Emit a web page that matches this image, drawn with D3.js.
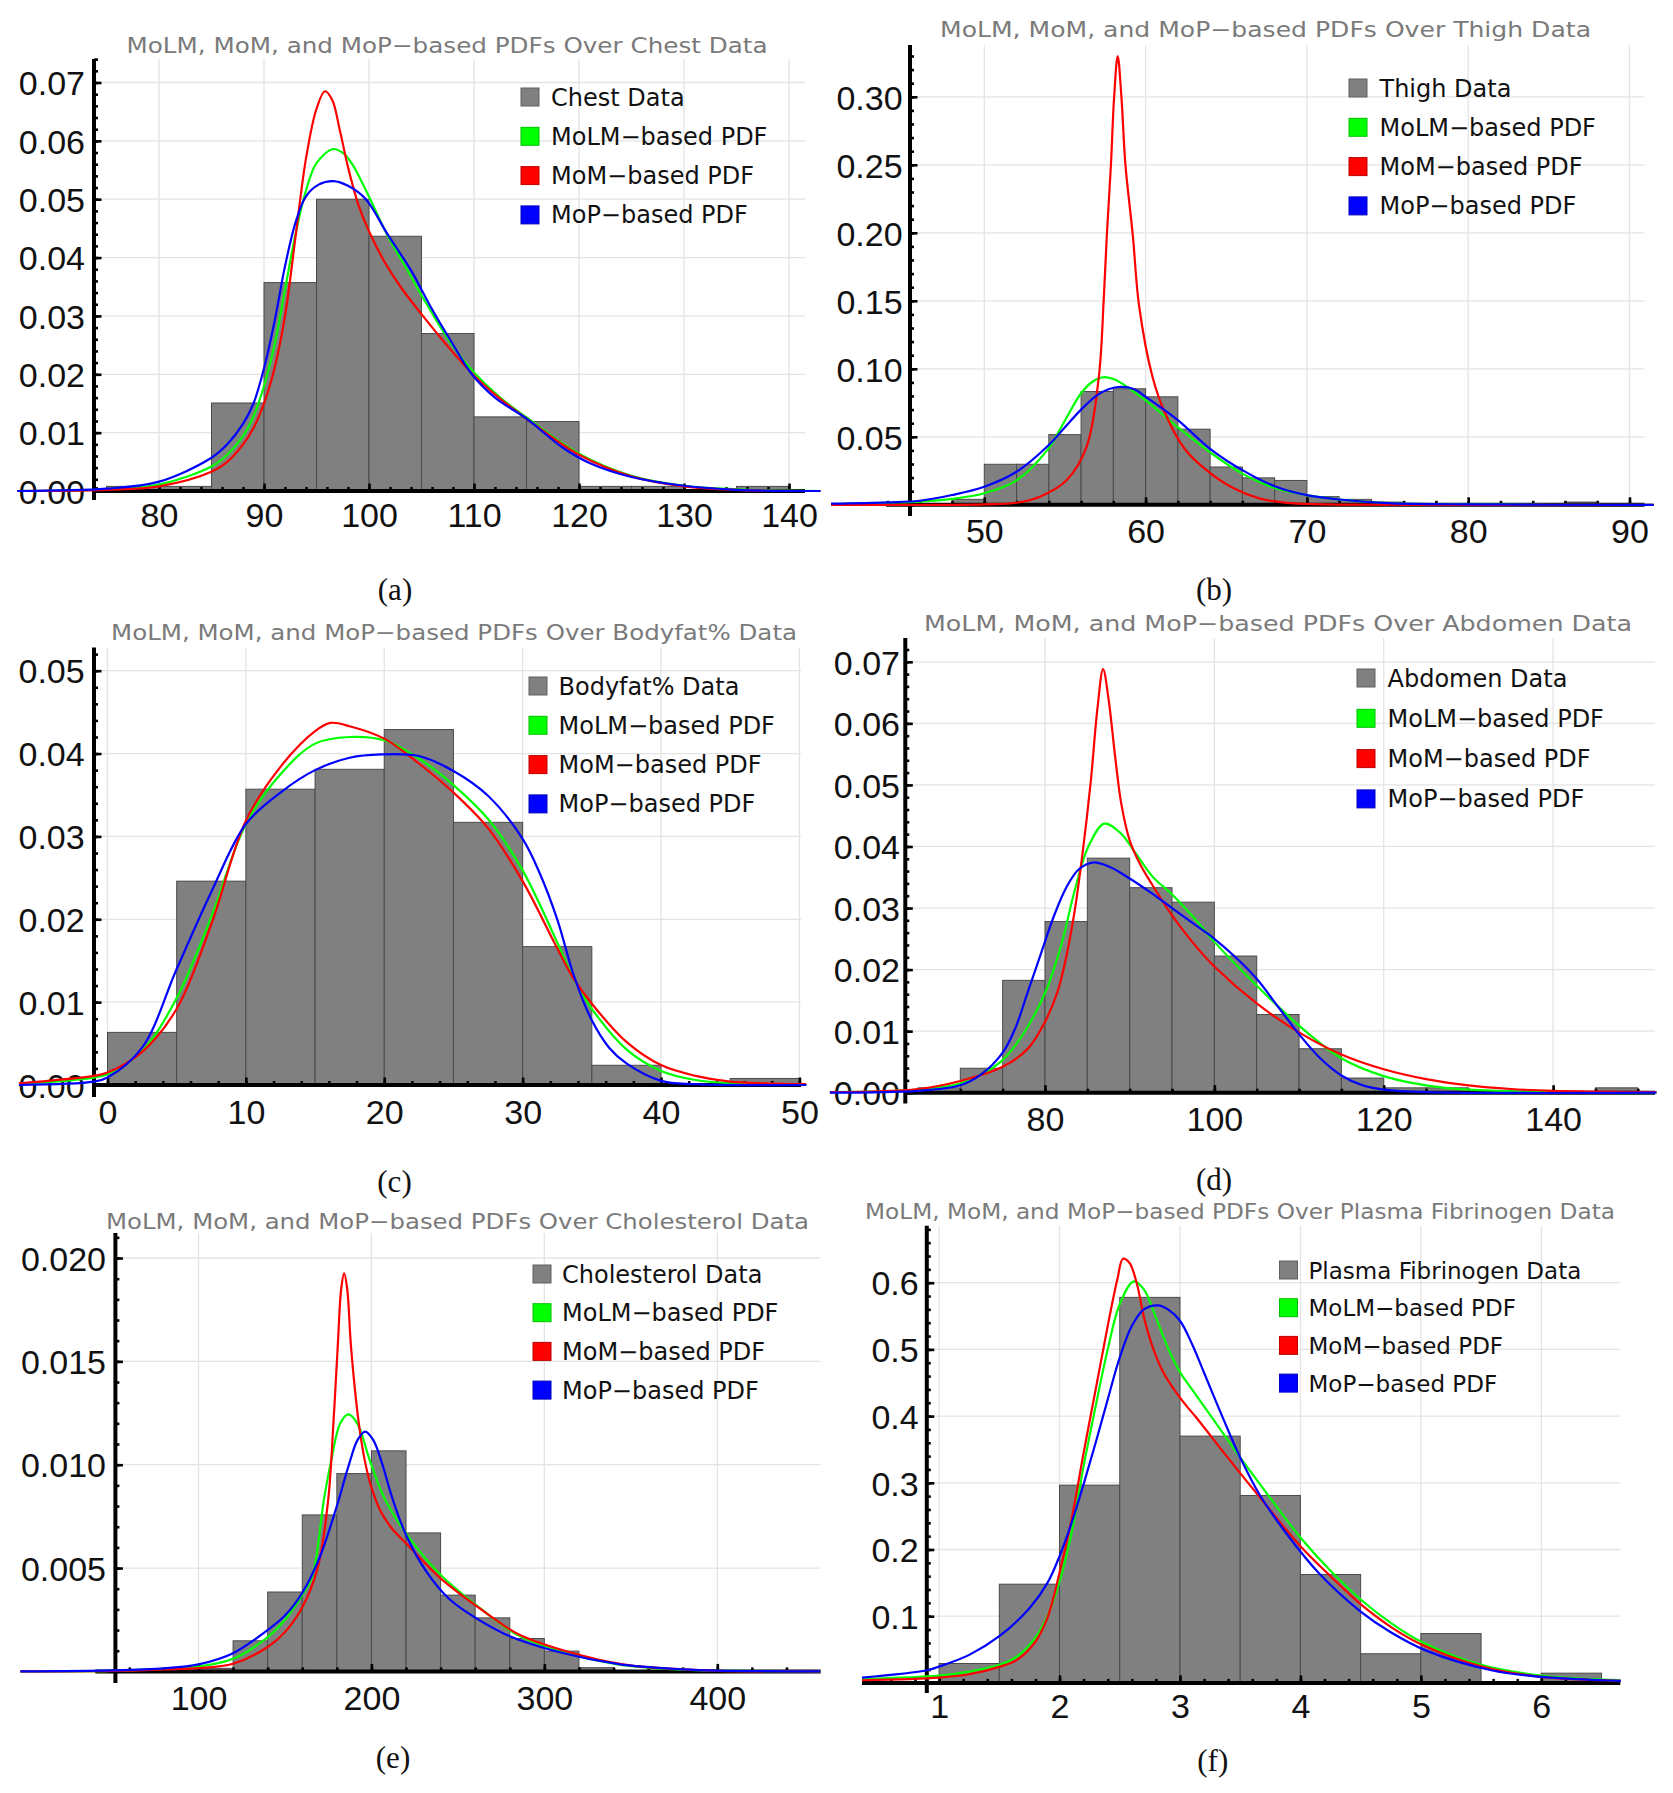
<!DOCTYPE html>
<html><head><meta charset="utf-8">
<script src="https://cdn.jsdelivr.net/npm/d3@7"></script>
<style>body{margin:0;background:#fff}svg{display:block}</style>
</head><body><svg id="c" width="1673" height="1793"></svg>
<script>
// ================= DATA =================
const legendSeries = ["MoLM\u2212based PDF", "MoM\u2212based PDF", "MoP\u2212based PDF"];

// (a) Chest
const chestBinStart = [75,80,85,90,95,100,105,110,115,120,125,130,135];
const chestBinWidth = 5;
const chestDensity = [0.00079,0.00079,0.01508,0.03571,0.05000,0.04365,0.02698,0.01270,0.01190,0.00079,0.00079,0,0.00079];
const chestMoLM = [[66.5,0],[75,0.0003],[80,0.0011],[85,0.0042],[86.5,0.0062],[88,0.0094],[89,0.0128],[90,0.0180],[91,0.0250],[92,0.0345],[93,0.0440],[94,0.0515],[95,0.0562],[96.6,0.0586],[97.6,0.0578],[98.4,0.0560],[99.3,0.0530],[100.2,0.0497],[101.7,0.0440],[103.7,0.0377],[105.5,0.0320],[108,0.0248],[110,0.0203],[112.5,0.0160],[115,0.0126],[120,0.0064],[125,0.0026],[130,0.0009],[135,0.0003],[143,0]];
const chestMoM = [[66.5,0],[75,0.0002],[80,0.0008],[85,0.0033],[86.5,0.0050],[88,0.0080],[89,0.0108],[90,0.0150],[91,0.0210],[92,0.0300],[93,0.0435],[94,0.0570],[95,0.0655],[95.8,0.0685],[96.5,0.0670],[97.2,0.0620],[98,0.0555],[99,0.0490],[100,0.0445],[101.5,0.0392],[103,0.0350],[105,0.0303],[107.5,0.0248],[110,0.0198],[112.5,0.0158],[115,0.0124],[120,0.0062],[125,0.0025],[130,0.0008],[135,0.0002],[143,0]];
const chestMoP = [[66.5,0],[75,0.0004],[80,0.0016],[85,0.0057],[86.5,0.0080],[88,0.0115],[89,0.0150],[90,0.0210],[91,0.0290],[92,0.0385],[93,0.0460],[94,0.0505],[95.2,0.0525],[96.6,0.0531],[98,0.0523],[99.7,0.0500],[101.7,0.0442],[104,0.0378],[105.8,0.0318],[107.8,0.0257],[109.8,0.0200],[112,0.0160],[115,0.0124],[118.4,0.0075],[121,0.0048],[125,0.0024],[130,0.0009],[135,0.0002],[143,0]];
const chestXTicks = [80,90,100,110,120,130,140];
const chestYTicks = [0,0.01,0.02,0.03,0.04,0.05,0.06,0.07];

// (b) Thigh
const thighBinStart = [48,50,52,54,56,58,60,62,64,66,68,70,72,74,76,78,80,82,84,86];
const thighBinWidth = 2;
const thighDensity = [0.0040,0.0298,0.0298,0.0516,0.0833,0.0853,0.0794,0.0556,0.0278,0.0198,0.0179,0.0060,0.0040,0.0020,0,0,0,0,0,0.0020];
const thighMoLM = [[40.5,0.0005],[44,0.0015],[46,0.0023],[48,0.0043],[50,0.0085],[52,0.018],[54,0.0417],[55,0.062],[56,0.0820],[56.7,0.0905],[57.37,0.0938],[58,0.0925],[58.5,0.0895],[60,0.0767],[62,0.0570],[64,0.0386],[66,0.0229],[68,0.0123],[70,0.0071],[72,0.0039],[75,0.0013],[80,0.0003],[91.5,0]];
const thighMoM = [[40.5,0],[50,0.0003],[52,0.0015],[53.45,0.006],[55.1,0.018],[56.35,0.043],[57.1,0.094],[57.4,0.15],[57.6,0.199],[57.85,0.25],[58.05,0.30],[58.27,0.330],[58.5,0.30],[58.75,0.25],[59.2,0.199],[59.6,0.146],[60.43,0.094],[61.2,0.0675],[62.43,0.041],[63.77,0.0255],[65.43,0.0123],[67.1,0.0045],[69,0.0012],[72,0.0002],[91.5,0]];
const thighMoP = [[40.5,0.0008],[44,0.0018],[46,0.003],[48,0.0072],[50,0.0133],[52,0.0243],[54,0.044],[55,0.057],[56,0.070],[57,0.0806],[57.7,0.085],[58.43,0.0867],[59.3,0.0850],[60,0.0795],[62,0.0623],[64,0.0412],[66,0.0255],[68,0.0137],[70,0.0071],[72,0.0039],[75,0.0013],[80,0.0003],[91.5,0]];
const thighXTicks = [50,60,70,80,90];
const thighYTicks = [0.05,0.10,0.15,0.20,0.25,0.30];

// (c) Bodyfat%
const bodyfatBinStart = [0,5,10,15,20,25,30,35,40,45];
const bodyfatBinWidth = 5;
const bodyfatDensity = [0.00635,0.0246,0.0357,0.0381,0.0429,0.0317,0.0167,0.00238,0,0.00079];
const bodyfatMoLM = [[-6.4,0.0001],[-1,0.0009],[0,0.0013],[2.5,0.0041],[5,0.0105],[7.5,0.0203],[10,0.0315],[12.5,0.0375],[15,0.0412],[17.5,0.0420],[20,0.0416],[22.5,0.0394],[25,0.0362],[27.5,0.0321],[30,0.0259],[32.5,0.0172],[33.7,0.0128],[35,0.0092],[37.5,0.0043],[40,0.0017],[42.5,0.0006],[45,0.0002],[50.5,0]];
const bodyfatMoM = [[-6.4,0.0002],[-1,0.0011],[0,0.0015],[2.5,0.0040],[5,0.0092],[7.5,0.0194],[10,0.0319],[12.5,0.0384],[15,0.0427],[16.1,0.0437],[17.5,0.0433],[20,0.0418],[22.5,0.0388],[25,0.0353],[27.5,0.0310],[30,0.0246],[32.5,0.0165],[33.7,0.0128],[35,0.0098],[37.5,0.0052],[40,0.0024],[42.5,0.0011],[45,0.0004],[47.5,0.0002],[50.5,0.0001]];
const bodyfatMoP = [[-6.4,0],[-1,0.0004],[0,0.0009],[2.5,0.0045],[5,0.0140],[7.5,0.0233],[10,0.0315],[12.5,0.0353],[15,0.0380],[17.5,0.0395],[19.8,0.0399],[22.5,0.0397],[25,0.0379],[27.5,0.0349],[30,0.0297],[31.25,0.0255],[32.5,0.0200],[33.7,0.0132],[35,0.0078],[36.25,0.0045],[37.5,0.0026],[40,0.0005],[42.5,0.0001],[50.5,0]];
const bodyfatXTicks = [0,10,20,30,40,50];
const bodyfatYTicks = [0,0.01,0.02,0.03,0.04,0.05];

// (d) Abdomen
const abdomenBinStart = [65,70,75,80,85,90,95,100,105,110,115,120,125,130,135,140,145];
const abdomenBinWidth = 5;
const abdomenDensity = [0.00079,0.00397,0.01825,0.0278,0.0381,0.0333,0.03095,0.0222,0.0127,0.00714,0.00238,0.00079,0.00079,0,0,0,0.00079];
const abdomenMoLM = [[54.6,0.0001],[65,0.0005],[70,0.0015],[72.5,0.003],[75,0.0053],[77.5,0.0097],[80,0.0162],[81.9,0.0239],[83.5,0.0328],[85.1,0.0399],[87,0.0437],[88.9,0.0422],[90.8,0.0387],[92.7,0.0351],[95,0.0322],[97.8,0.0281],[100,0.0245],[105,0.0174],[110,0.0109],[115,0.0056],[120,0.0027],[125,0.0012],[130,0.0005],[140,0.0001],[152.2,0]];
const abdomenMoM = [[54.6,0.0001],[65,0.0006],[70,0.0019],[75,0.0042],[78,0.0072],[80,0.0115],[81.5,0.0165],[82.5,0.0220],[83.5,0.0295],[84.4,0.0385],[85.4,0.0505],[86.2,0.0625],[86.86,0.0688],[87.5,0.0640],[88.25,0.0550],[89,0.0470],[90,0.0410],[91.2,0.0372],[92.7,0.0337],[95,0.0288],[97.5,0.0243],[100,0.0205],[105,0.0145],[110,0.0098],[115,0.0062],[120,0.0038],[125,0.0022],[130,0.0012],[135,0.0006],[140,0.0003],[152.2,0.0001]];
const abdomenMoP = [[54.6,0],[65,0.0003],[70,0.0012],[72.5,0.003],[75,0.0065],[76.5,0.0105],[78,0.0165],[79.5,0.0225],[81,0.0285],[82.5,0.0333],[84,0.0363],[85.7,0.0374],[87.6,0.0367],[90,0.0348],[92.5,0.0325],[95,0.0300],[97.5,0.0275],[100,0.0250],[102.5,0.0220],[105,0.0185],[107.5,0.0140],[110,0.0095],[112.5,0.0056],[115,0.0028],[117.5,0.0012],[120,0.0005],[125,0.0001],[152.2,0]];
const abdomenXTicks = [80,100,120,140];
const abdomenYTicks = [0,0.01,0.02,0.03,0.04,0.05,0.06,0.07];

// (e) Cholesterol
const cholBinStart = [80,100,120,140,160,180,200,220,240,260,280,300,320];
const cholBinWidth = 20;
const cholDensity = [0.00015,0.00015,0.00148,0.00384,0.00757,0.00957,0.01067,0.0067,0.00369,0.00259,0.00159,0.00098,0.00018];
const cholMoLM = [[-3,0],[50,0.00003],[80,0.00012],[100,0.00024],[120,0.00061],[140,0.00166],[150,0.0025],[160,0.0037],[165.8,0.0046],[172.5,0.0083],[176.5,0.0101],[182,0.0120],[186.6,0.01243],[191.8,0.0120],[199.5,0.0101],[208,0.0083],[222.4,0.0064],[240.8,0.0046],[266.8,0.0028],[283.7,0.0018],[312.7,0.0009],[343.3,0.00033],[380,0.00008],[400,0.00003],[459.5,0]];
const cholMoM = [[-3,0],[50,0.00002],[80,0.0001],[100,0.00016],[120,0.00037],[140,0.00118],[150,0.0019],[160,0.0031],[168.9,0.0050],[175,0.0083],[178,0.0120],[180.5,0.0157],[182.5,0.0185],[184.2,0.01926],[186,0.0185],[188.2,0.0157],[192.7,0.0120],[196.4,0.0101],[200,0.0089],[205,0.0078],[212,0.0069],[220,0.0062],[240,0.0045],[266.8,0.0028],[285,0.0018],[315.8,0.0009],[346.4,0.00033],[380,0.0001],[400,0.00003],[459.5,0]];
const cholMoP = [[-3,0],[50,0.00005],[80,0.00015],[100,0.00034],[120,0.00088],[140,0.0020],[150,0.0027],[160,0.0038],[170,0.0055],[180,0.0080],[187,0.0100],[192,0.0112],[196.4,0.0116],[201,0.0112],[206,0.0101],[212,0.0084],[220,0.0066],[232,0.0048],[245,0.0035],[260,0.0026],[280,0.0017],[310,0.0009],[343,0.00035],[380,0.0001],[400,0.00004],[459.5,0]];
const cholXTicks = [100,200,300,400];
const cholYTicks = [0.005,0.010,0.015,0.020];

// (f) Plasma Fibrinogen
const fibBinStart = [1,1.5,2,2.5,3,3.5,4,4.5,5,5.5,6];
const fibBinWidth = 0.5;
const fibDensity = [0.0291,0.148,0.2965,0.578,0.370,0.281,0.1625,0.0437,0.074,0,0.0146];
const fibMoLM = [[0.36,0.006],[1.0,0.011],[1.25,0.017],[1.5,0.027],[1.65,0.040],[1.8,0.068],[1.9,0.100],[2.0,0.152],[2.1,0.225],[2.2,0.325],[2.3,0.415],[2.4,0.500],[2.5,0.568],[2.616,0.602],[2.7,0.590],[2.8,0.548],[2.9,0.502],[3.0,0.466],[3.1,0.440],[3.25,0.402],[3.5,0.338],[3.75,0.277],[4.0,0.218],[4.25,0.168],[4.5,0.125],[4.75,0.090],[5.0,0.062],[5.5,0.027],[6.0,0.011],[6.5,0.005],[6.66,0.004]];
const fibMoM = [[0.36,0.004],[1.0,0.008],[1.25,0.013],[1.5,0.024],[1.65,0.035],[1.8,0.062],[1.9,0.098],[2.0,0.165],[2.1,0.245],[2.2,0.345],[2.3,0.440],[2.4,0.535],[2.48,0.605],[2.527,0.636],[2.58,0.630],[2.64,0.600],[2.705,0.545],[2.78,0.500],[2.86,0.466],[2.95,0.440],[3.05,0.416],[3.13,0.399],[3.4,0.337],[3.7,0.270],[4.0,0.205],[4.25,0.160],[4.5,0.118],[4.75,0.084],[5.0,0.058],[5.5,0.025],[6.0,0.009],[6.5,0.004],[6.66,0.003]];
const fibMoP = [[0.36,0.008],[0.9,0.019],[1.0,0.0245],[1.25,0.042],[1.5,0.070],[1.75,0.112],[1.9,0.150],[2.0,0.190],[2.1,0.240],[2.2,0.298],[2.3,0.360],[2.4,0.425],[2.5,0.488],[2.6,0.535],[2.7,0.560],[2.817,0.566],[2.9,0.560],[3.0,0.543],[3.1,0.508],[3.2,0.465],[3.35,0.400],[3.5,0.338],[3.665,0.281],[3.89,0.2225],[4.156,0.164],[4.5,0.107],[4.75,0.076],[5.05,0.048],[5.585,0.019],[6.0,0.009],[6.5,0.004],[6.66,0.003]];
const fibXTicks = [1,2,3,4,5,6];
const fibYTicks = [0.1,0.2,0.3,0.4,0.5,0.6];

// ================= LAYOUT / STYLE =================
const panels = [
 {title:"MoLM, MoM, and MoP\u2212based PDFs Over Chest Data", dataLabel:"Chest Data", tag:"(a)",
  bins:chestBinStart, binW:chestBinWidth, dens:chestDensity, curves:[chestMoLM,chestMoM,chestMoP],
  xTicks:chestXTicks, xMinor:2, yTicks:chestYTicks, yMinor:0.002, xFmt:"d", yFmt:".2f",
  L:{xs:[80,140], xp:[159,789], yv:0.07, y0:491, yp:82.5, ax:94, aTop:59, aBot:500, xl:94, xr:805,
     xlb:527, ylr:85, tx:447, ty:53, tw:641, lx:521, ly:97, ls:39.3, ltx:551, lf:24, px:395, py:600}},
 {title:"MoLM, MoM, and MoP\u2212based PDFs Over Thigh Data", dataLabel:"Thigh Data", tag:"(b)",
  bins:thighBinStart, binW:thighBinWidth, dens:thighDensity, curves:[thighMoLM,thighMoM,thighMoP],
  xTicks:thighXTicks, xMinor:2, yTicks:thighYTicks, yMinor:0.01, xFmt:"d", yFmt:".2f",
  L:{xs:[50,90], xp:[984.3,1629.5], yv:0.30, y0:504.8, yp:96.8, ax:910, aTop:45, aBot:516, xl:886, xr:1644.5,
     xlb:543, ylr:902.6, tx:1265.5, ty:37, tw:651, lx:1349, ly:88, ls:39.3, ltx:1379.5, lf:24, px:1214, py:600}},
 {title:"MoLM, MoM, and MoP\u2212based PDFs Over Bodyfat% Data", dataLabel:"Bodyfat% Data", tag:"(c)",
  bins:bodyfatBinStart, binW:bodyfatBinWidth, dens:bodyfatDensity, curves:[bodyfatMoLM,bodyfatMoM,bodyfatMoP],
  xTicks:bodyfatXTicks, xMinor:2, yTicks:bodyfatYTicks, yMinor:0.002, xFmt:"d", yFmt:".2f",
  L:{xs:[0,50], xp:[107.5,799.4], yv:0.05, y0:1085, yp:670.7, ax:94, aTop:647.5, aBot:1097, xl:94, xr:801,
     xlb:1124, ylr:84.7, tx:454, ty:640, tw:686, lx:529, ly:686, ls:39.3, ltx:558.5, lf:24, px:394.5, py:1192}},
 {title:"MoLM, MoM, and MoP\u2212based PDFs Over Abdomen Data", dataLabel:"Abdomen Data", tag:"(d)",
  bins:abdomenBinStart, binW:abdomenBinWidth, dens:abdomenDensity, curves:[abdomenMoLM,abdomenMoM,abdomenMoP],
  xTicks:abdomenXTicks, xMinor:5, yTicks:abdomenYTicks, yMinor:0.002, xFmt:"d", yFmt:".2f",
  L:{xs:[80,140], xp:[1045,1553.1], yv:0.07, y0:1092.7, yp:661.8, ax:905.3, aTop:638, aBot:1103.6, xl:905.3, xr:1655,
     xlb:1131, ylr:900, tx:1278, ty:631, tw:708, lx:1357, ly:678, ls:40.3, ltx:1387.5, lf:24, px:1214, py:1190}},
 {title:"MoLM, MoM, and MoP\u2212based PDFs Over Cholesterol Data", dataLabel:"Cholesterol Data", tag:"(e)",
  bins:cholBinStart, binW:cholBinWidth, dens:cholDensity, curves:[cholMoLM,cholMoM,cholMoP],
  xTicks:cholXTicks, xMinor:20, yTicks:cholYTicks, yMinor:0.001, xFmt:"d", yFmt:".3f",
  L:{xs:[100,400], xp:[198.5,717.3], yv:0.020, y0:1671.4, yp:1258, ax:115.4, aTop:1233, aBot:1683, xl:95.3, xr:820.6,
     xlb:1710, ylr:106, tx:457.5, ty:1228.6, tw:703, lx:533, ly:1274, ls:38.7, ltx:562, lf:24, px:393, py:1768}},
 {title:"MoLM, MoM, and MoP\u2212based PDFs Over Plasma Fibrinogen Data", dataLabel:"Plasma Fibrinogen Data", tag:"(f)",
  bins:fibBinStart, binW:fibBinWidth, dens:fibDensity, curves:[fibMoLM,fibMoM,fibMoP],
  xTicks:fibXTicks, xMinor:0.2, yTicks:fibYTicks, yMinor:0.02, xFmt:"d", yFmt:".1f",
  L:{xs:[1,6], xp:[939.1,1541.3], yv:0.6, y0:1682.9, yp:1282.7, ax:926.8, aTop:1225.7, aBot:1693, xl:862, xr:1620.3,
     xlb:1718, ylr:918.7, tx:1240, ty:1219, tw:750, lx:1279.5, ly:1270, ls:37.7, ltx:1308.5, lf:23, px:1212.8, py:1771}}
];

const seriesColors = ["#00ff00", "#ff0000", "#0000ff"];
const dataFill = "#808080";
const sans = "'DejaVu Sans', Verdana, sans-serif";
const tickFont = "'Liberation Sans', Arial, sans-serif";
const serif = "'Liberation Serif', 'DejaVu Serif', serif";

const svg = d3.select("#c");
svg.append("rect").attr("width",1673).attr("height",1793).attr("fill","#fff");

function stepVals(lo, hi, step){
  const a = Math.ceil(lo/step - 1e-9), b = Math.floor(hi/step + 1e-9);
  return d3.range(a, b+1).map(i => +(i*step).toFixed(8));
}

panels.forEach(p => {
  const L = p.L;
  const g = svg.append("g");
  const x = d3.scaleLinear().domain(L.xs).range(L.xp);
  const y = d3.scaleLinear().domain([0, L.yv]).range([L.y0, L.yp]);
  const xlo = x.invert(L.xl), xhi = x.invert(L.xr), ytop = y.invert(L.aTop);

  // grid
  const grid = g.append("g").attr("stroke","#e4e4e4").attr("stroke-width",1.3);
  grid.selectAll("line.v").data(p.xTicks).join("line").attr("class","v")
    .attr("x1",d=>x(d)).attr("x2",d=>x(d)).attr("y1",L.aTop).attr("y2",L.y0);
  grid.selectAll("line.h").data(p.yTicks.filter(v=>v>0)).join("line").attr("class","h")
    .attr("x1",L.ax).attr("x2",L.xr).attr("y1",d=>y(d)).attr("y2",d=>y(d));

  // histogram bars
  const binData = p.bins.map((b,i)=>({b, v:p.dens[i]})).filter(d=>d.v>0);
  g.append("g").selectAll("rect").data(binData).join("rect")
    .attr("x",d=>x(d.b)).attr("width",d=>x(d.b+p.binW)-x(d.b))
    .attr("y",d=>y(d.v)).attr("height",d=>L.y0-y(d.v))
    .attr("fill",dataFill).attr("stroke","#4a4a4a").attr("stroke-width",1);

  // axes lines
  g.append("line").attr("x1",L.xl).attr("x2",L.xr).attr("y1",L.y0).attr("y2",L.y0)
    .attr("stroke","#000").attr("stroke-width",4);
  g.append("line").attr("x1",L.ax).attr("x2",L.ax).attr("y1",L.aTop).attr("y2",L.aBot)
    .attr("stroke","#000").attr("stroke-width",4);

  // x ticks
  const styleTicks = s => { s.select(".domain").remove(); s.selectAll(".tick line").attr("stroke","#000").attr("stroke-width",2.6); };
  g.append("g").attr("transform",`translate(0,${L.y0})`)
    .call(d3.axisBottom(x).tickValues(stepVals(xlo,xhi,p.xMinor)).tickSize(-4).tickFormat(""))
    .call(styleTicks);
  const gxm = g.append("g").attr("transform",`translate(0,${L.y0})`)
    .call(d3.axisBottom(x).tickValues(p.xTicks).tickSize(-7.5).tickFormat(d3.format(p.xFmt)))
    .call(styleTicks);
  gxm.selectAll("text").attr("y",L.xlb-L.y0).attr("dy",null)
    .style("font-family",tickFont).style("font-size","34px").attr("fill","#111");

  // y ticks
  const gy = g.append("g").attr("transform",`translate(${L.ax},0)`);
  gy.append("g").call(d3.axisLeft(y).tickValues(stepVals(0,ytop,p.yMinor)).tickSize(-4).tickFormat("")).call(styleTicks);
  const gym = gy.append("g").call(d3.axisLeft(y).tickValues(p.yTicks).tickSize(-7.5).tickFormat(d3.format(p.yFmt))).call(styleTicks);
  gym.selectAll("text").attr("x",L.ylr-L.ax).attr("dy","0.36em")
    .style("font-family",tickFont).style("font-size","34px").attr("fill","#111");

  // PDF curves
  const line = d3.line().x(d=>x(d[0])).y(d=>y(d[1])).curve(d3.curveCatmullRom.alpha(0.5));
  p.curves.forEach((c,i)=>{
    g.append("path").attr("d",line(c)).attr("fill","none")
      .attr("stroke",seriesColors[i]).attr("stroke-width",2.2).attr("stroke-linejoin","round");
  });

  // legend
  const items = [p.dataLabel, ...legendSeries];
  const fills = [dataFill, ...seriesColors];
  items.forEach((t,i)=>{
    const cy = L.ly + i*L.ls;
    g.append("rect").attr("x",L.lx).attr("y",cy-9).attr("width",18).attr("height",18)
      .attr("fill",fills[i]).attr("stroke",d3.color(fills[i]).darker(0.8)).attr("stroke-width",1);
    g.append("text").attr("x",L.ltx).attr("y",cy+8.5).text(t)
      .style("font-family",sans).style("font-size",L.lf+"px").attr("fill","#111");
  });

  // title
  g.append("text").attr("x",L.tx).attr("y",L.ty).attr("text-anchor","middle")
    .attr("textLength",L.tw).attr("lengthAdjust","spacingAndGlyphs")
    .style("font-family",sans).style("font-size","22px").attr("fill","#7a7a7a").text(p.title);

  // panel tag
  g.append("text").attr("x",L.px).attr("y",L.py).attr("text-anchor","middle")
    .style("font-family",serif).style("font-size","31px").attr("fill","#111").text(p.tag);
});
</script>
</body></html>
